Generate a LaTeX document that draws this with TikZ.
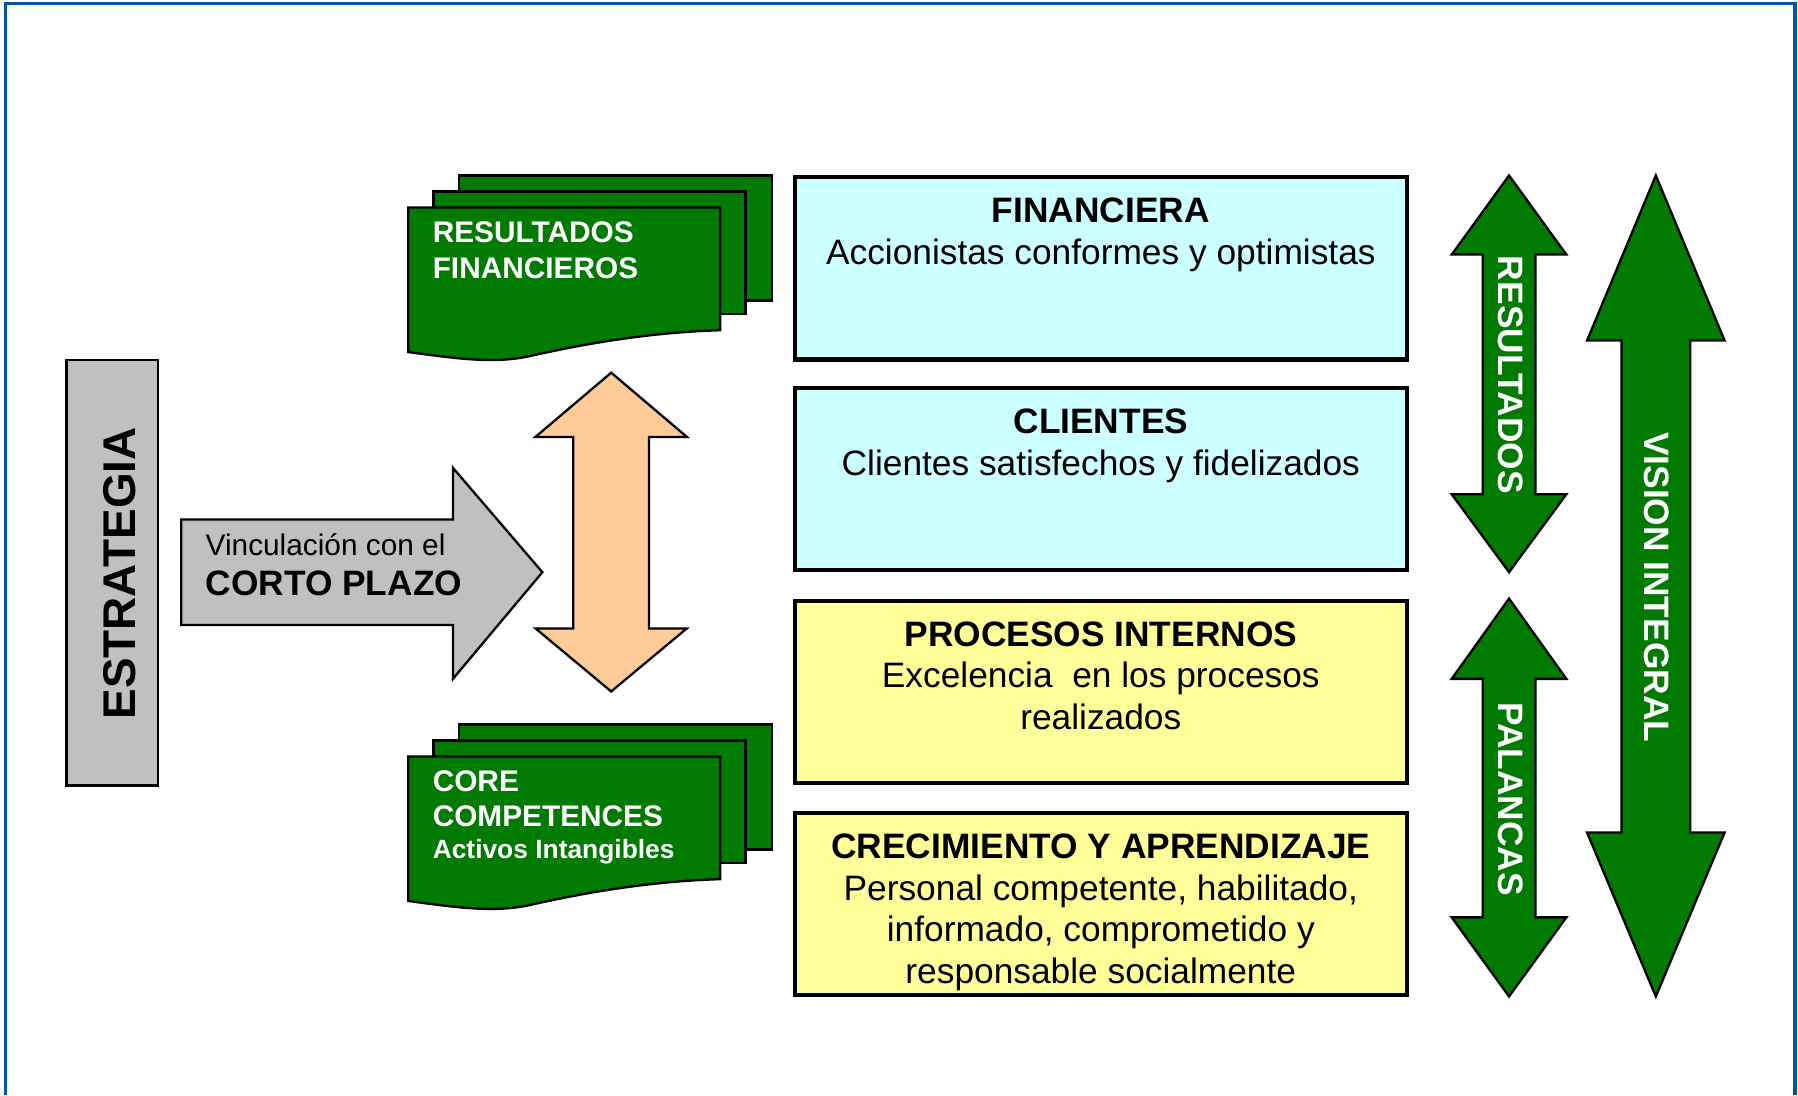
\documentclass[tikz,border=0pt]{standalone}
\usepackage{fontspec}
\setmainfont{Liberation Sans}
\usetikzlibrary{positioning}

\definecolor{verde}{RGB}{0,122,0}
\definecolor{celeste}{RGB}{204,255,255}
\definecolor{amarillo}{RGB}{255,255,153}
\definecolor{naranja}{RGB}{255,204,153}
\definecolor{gris}{RGB}{192,192,192}
\definecolor{marco}{RGB}{0,85,165}

% pila de tres hojas verdes, #1 = desplazamiento vertical
\newcommand{\hojas}[1]{%
  \begin{scope}[shift={(0,#1)}]
    \draw[hoja] (400,153) rectangle (673,262);
    \draw[hoja] (378,167) rectangle (650,274);
    \draw[hoja] (356,181) -- (628,181) -- (628,288)
      .. controls (560,290) and (500,302) .. (460,311)
      .. controls (430,317) and (400,313) .. (356,307) -- cycle;
  \end{scope}}

% flecha doble vertical: relleno, x, punta, base, base, punta, media cabeza, medio cuerpo
\newcommand{\flechadoble}[8]{%
  \draw[contorno, fill=#1] (#2,#3) -- ({#2+#7},#4) -- ({#2+#8},#4) -- ({#2+#8},#5)
    -- ({#2+#7},#5) -- (#2,#6) -- ({#2-#7},#5) -- ({#2-#8},#5) -- ({#2-#8},#4)
    -- ({#2-#7},#4) -- cycle;}

\begin{document}
\begin{tikzpicture}[x=0.5pt, y=-0.5pt,
    every node/.style={inner sep=0pt},
    contorno/.style={draw=black, line width=1pt},
    hoja/.style={contorno, fill=verde},
    caja/.style={draw=black, line width=1.75pt, minimum width=267pt, minimum height=79.5pt},
    textocaja/.style={align=center, font=\fontsize{15.4}{18.25}\selectfont},
    blanco/.style={anchor=north west, align=left, text=white},
    vertical/.style={rotate=-90, text=white, font=\fontsize{15.4}{18}\selectfont\bfseries}]
  \useasboundingbox (0,0) rectangle (1568,955);
  \draw[marco, line width=1.4pt] (4.8,955) -- (4.8,3) -- (1565.3,3) -- (1565.3,955);

  % estrategia y corto plazo
  \draw[contorno, fill=gris] (58,314) rectangle (138,685);
  \node[rotate=90, font=\fontsize{20}{20}\selectfont\bfseries] (estrategia) at (104,500) {ESTRATEGIA};
  \draw[contorno, fill=gris] (158,453) -- (395,453) -- (395,408) -- (473,499)
    -- (395,592) -- (395,545) -- (158,545) -- cycle;
  \node[anchor=north west, align=left, font=\fontsize{13}{17.5}\selectfont] (vinculo) at (179,465)
    {Vinculación con el\\{\fontsize{15.4}{17.5}\selectfont\bfseries CORTO PLAZO}};
  \flechadoble{naranja}{533}{325}{381}{548}{603}{66}{33}

  % hojas
  \hojas{0}
  \hojas{478.7}
  \node[blanco, font=\fontsize{13}{15.7}\selectfont\bfseries] (resfin) at (377,192.5)
    {RESULTADOS\\FINANCIEROS};
  \node[blanco, font=\fontsize{13}{15.25}\selectfont\bfseries] (core) at (377,671.5)
    {CORE\\COMPETENCES\\[-1.25pt]{\fontsize{11.5}{14}\selectfont Activos Intangibles}};

  % perspectivas
  \node[caja, fill=celeste] (financiera) at (960,234) {};
  \node[caja, fill=celeste] (clientes) at (960,418) {};
  \node[caja, fill=amarillo] (procesos) at (960,603.5) {};
  \node[caja, fill=amarillo] (crecimiento) at (960,788.5) {};
  \node[textocaja, below=9.6pt of financiera.north] (tfin)
    {\textbf{FINANCIERA}\\Accionistas conformes y optimistas};
  \node[textocaja, below=9.6pt of clientes.north] (tcli)
    {\textbf{CLIENTES}\\Clientes satisfechos y fidelizados};
  \node[textocaja, below=9.6pt of procesos.north] (tpro)
    {\textbf{PROCESOS INTERNOS}\\Excelencia\ \ en los procesos\\realizados};
  \node[textocaja, below=9.6pt of crecimiento.north] (tcre)
    {\textbf{CRECIMIENTO Y APRENDIZAJE}\\Personal competente, habilitado,\\informado, comprometido y\\responsable socialmente};

  % flechas verdes
  \flechadoble{verde}{1316}{153}{222}{431}{499}{50}{23}
  \flechadoble{verde}{1316}{522}{592}{800}{869}{50}{23}
  \flechadoble{verde}{1444}{153}{297}{726}{869}{60}{30}
  \node[vertical] (resultados) at (1317,327) {RESULTADOS};
  \node[vertical] (palancas) at (1317,697) {PALANCAS};
  \node[vertical] (vision) at (1445,512) {VISION INTEGRAL};
\end{tikzpicture}
\end{document}
